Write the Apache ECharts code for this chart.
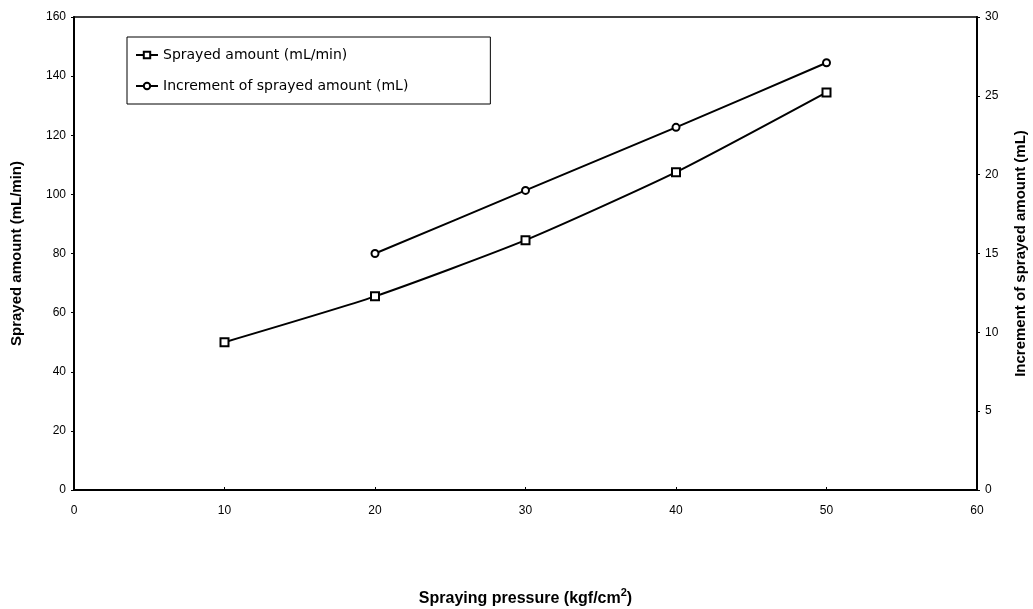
<!DOCTYPE html>
<html>
<head>
<meta charset="utf-8">
<script src="https://cdn.jsdelivr.net/npm/echarts@6/dist/echarts.min.js"></script>
<style>
  html, body { margin: 0; padding: 0; background: #fff; }
  #chart { width: 1033px; height: 609px; }
</style>
</head>
<body>
<div id="chart"></div>
<script>
// pressure (kgf/cm2) vs amounts
const sprayedPressure = [10, 20, 30, 40, 50];
const sprayedAmount = [50, 65.5, 84.5, 107.5, 134.5];
const incrementPressure = [20, 30, 40, 50];
const incrementAmount = [15, 19, 23, 27.1];

const font = 'Liberation Sans, Arial, sans-serif';
const chart = echarts.init(document.getElementById('chart'));

chart.setOption({
  animation: false,
  textStyle: { fontFamily: font, color: '#000' },
  grid: {
    left: 74, right: 56, top: 17, bottom: 119,
    outerBoundsMode: 'none', containLabel: false,
    show: true, borderColor: '#000', borderWidth: 1.5
  },
  legend: {
    orient: 'vertical',
    left: 127, top: 37,
    borderColor: '#000', borderWidth: 1,
    padding: [11, 82, 11, 8],
    itemGap: 17,
    itemWidth: 22, itemHeight: 8,
    textStyle: { fontSize: 14, fontFamily: 'DejaVu Sans', color: '#000' },
    data: ['Sprayed amount (mL/min)', 'Increment of sprayed amount (mL)']
  },
  xAxis: {
    type: 'value', min: 0, max: 60, interval: 10,
    name: '{a|Spraying pressure (kgf/cm}{s|2}{a|)}',
    nameLocation: 'middle', nameGap: 97,
    nameTextStyle: {
      rich: {
        a: { fontSize: 16, fontWeight: 'bold', fontFamily: font, color: '#000', lineHeight: 20, verticalAlign: 'bottom' },
        s: { fontSize: 11, fontWeight: 'bold', fontFamily: font, color: '#000', lineHeight: 20, verticalAlign: 'top', padding: [0, 0, 6, 0] }
      }
    },
    axisLine: { lineStyle: { color: '#000', width: 2 } },
    axisTick: { inside: true, length: 3, lineStyle: { color: '#000' } },
    axisLabel: { fontSize: 12, color: '#000', margin: 15 },
    splitLine: { show: false }
  },
  yAxis: [{
    type: 'value', min: 0, max: 160, interval: 20,
    name: 'Sprayed amount (mL/min)',
    nameLocation: 'middle', nameGap: 50,
    nameTextStyle: { fontSize: 15, fontWeight: 'bold', color: '#000' },
    axisLine: { show: true, lineStyle: { color: '#000', width: 2 } },
    axisTick: { show: true, length: 3, lineStyle: { color: '#000' } },
    axisLabel: { fontSize: 12, color: '#000', margin: 8 },
    splitLine: { show: false }
  }, {
    type: 'value', min: 0, max: 30, interval: 5,
    name: 'Increment of sprayed amount (mL)',
    nameLocation: 'middle', nameGap: 36, nameRotate: 90,
    nameTextStyle: { fontSize: 15, fontWeight: 'bold', color: '#000' },
    axisLine: { show: true, lineStyle: { color: '#000', width: 2 } },
    axisTick: { show: true, length: 3, lineStyle: { color: '#000' } },
    axisLabel: { fontSize: 12, color: '#000', margin: 8 },
    splitLine: { show: false }
  }],
  series: [{
    name: 'Sprayed amount (mL/min)',
    type: 'line', yAxisIndex: 0, smooth: 0.2,
    symbol: 'emptyRect', symbolSize: 8,
    lineStyle: { color: '#000', width: 2 },
    itemStyle: { color: '#000', borderWidth: 2 },
    data: sprayedPressure.map((p, i) => [p, sprayedAmount[i]])
  }, {
    name: 'Increment of sprayed amount (mL)',
    type: 'line', yAxisIndex: 1, smooth: 0.2,
    symbol: 'emptyCircle', symbolSize: 7,
    lineStyle: { color: '#000', width: 2 },
    itemStyle: { color: '#000', borderWidth: 2 },
    data: incrementPressure.map((p, i) => [p, incrementAmount[i]])
  }]
});
</script>
</body>
</html>
